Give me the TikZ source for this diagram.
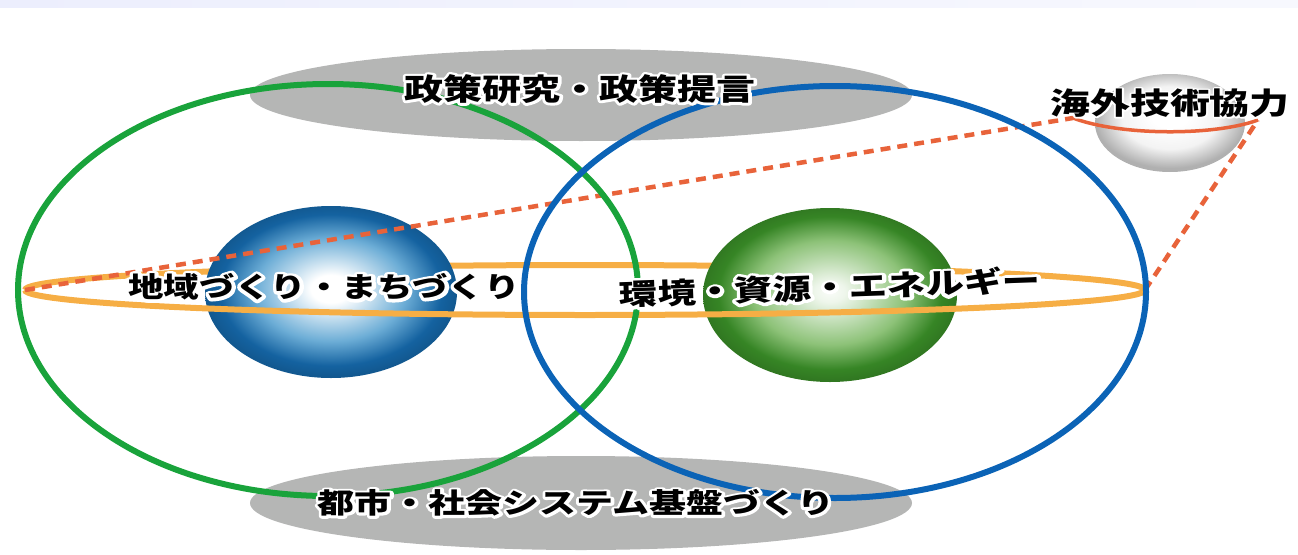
\documentclass[tikz,border=0pt]{standalone}
\usepackage{fontspec}
\newfontfamily\jp{Noto Sans CJK JP}
\newcommand\halotext[2]{\leavevmode\rlap{\special{pdf:literal direct 1 1 1 RG #1 w 1 j 1 J 2 Tr}#2\special{pdf:literal direct 0 Tr 0 G}}#2}
\definecolor{ringgreen}{HTML}{19A33B}
\definecolor{ringblue}{HTML}{0B63B6}
\definecolor{ringorange}{HTML}{F6AE45}
\definecolor{dashred}{HTML}{E8633A}
\definecolor{ovalgray}{HTML}{B5B6B5}
\definecolor{bandblue}{HTML}{ECEEFD}
\definecolor{sphblue}{HTML}{1462A0}
\definecolor{sphbluemid}{HTML}{6CADD6}
\definecolor{sphgreen}{HTML}{368525}
\definecolor{sphgreenmid}{HTML}{8DC278}
\definecolor{sphgray}{HTML}{B0B0B0}
\pgfdeclareradialshading{bluesph}{\pgfpoint{0bp}{1bp}}{color(0bp)=(white); color(4bp)=(white); color(15bp)=(sphbluemid); color(22bp)=(sphblue); color(25bp)=(sphblue!90!black); color(50bp)=(sphblue!90!black)}
\pgfdeclareradialshading{greensph}{\pgfpoint{0bp}{1bp}}{color(0bp)=(white!95!sphgreenmid); color(3bp)=(white!85!sphgreenmid); color(15bp)=(sphgreenmid); color(22bp)=(sphgreen); color(25bp)=(sphgreen!90!black); color(50bp)=(sphgreen!90!black)}
\pgfdeclareradialshading{graysph}{\pgfpoint{0bp}{4bp}}{color(0bp)=(white); color(6bp)=(white); color(16bp)=(white!85!sphgray); color(25bp)=(sphgray); color(50bp)=(sphgray)}
\begin{document}
\begin{tikzpicture}[x=1pt,y=-1pt,
  lbl/.style={inner sep=0pt, text=black},
  ringline/.style={ringorange, line width=6pt},
  dashline/.style={dashred, line width=4.5pt, dash pattern=on 10pt off 7pt},
  circline/.style={line width=6pt}]
\useasboundingbox (0,0) rectangle (1298,554);
\fill[left color=bandblue, right color=bandblue!40] (0,0) rectangle (1298,7);
% gray ovals
\fill[ovalgray] (581,95) ellipse [x radius=331, y radius=46];
\fill[ovalgray] (581,503) ellipse [x radius=331, y radius=47];
% coordinates
\coordinate (ringL) at (25,290);
\coordinate (ringR) at (1145,290);
\coordinate (smallL) at (1073,118);
\coordinate (smallR) at (1258,120);
% ring back half
\draw[ringline] (ringL) arc[start angle=180, end angle=360, x radius=560, y radius=25];
% spheres
\shade[shading=bluesph] (331,292) ellipse [x radius=126, y radius=86];
\shade[shading=greensph] (830,295) ellipse [x radius=127, y radius=87];
\shade[shading=graysph] (1170,123) ellipse [x radius=75, y radius=49];
% ring front half
\draw[ringline] (ringL) arc[start angle=180, end angle=0, x radius=560, y radius=25];
% dashed perspective lines
\draw[dashline] (ringL) -- (smallL);
\draw[dashline] (ringR) -- (smallR);
\draw[dashred, line width=3.5pt] (smallL) .. controls (1120,136) and (1215,136) .. (smallR);
% big circles
\draw[circline, ringgreen] (328,290) ellipse [x radius=310, y radius=206];
\draw[circline, ringblue] (835,292) ellipse [x radius=311, y radius=206];
% labels
\node[lbl] (policy) at (580,89) {\scalebox{1.3}[1]{\jp\bfseries\fontsize{30}{30}\selectfont\halotext{5}{政策研究・政策提言}}};
\node[lbl] (region) at (324,287) {\scalebox{1.27}[1]{\jp\bfseries\fontsize{28}{28}\selectfont\halotext{6}{地域づくり・まちづくり}}};
\node[lbl, rotate=2] (env) at (830,287) {\scalebox{1.32}[1]{\jp\bfseries\fontsize{29}{29}\selectfont\halotext{6}{環境・資源・エネルギー}}};
\node[lbl] (city) at (576,503) {\scalebox{1.32}[1]{\jp\bfseries\fontsize{28}{28}\selectfont\halotext{5}{都市・社会システム基盤づくり}}};
\node[lbl] (intl) at (1170,103) {\scalebox{1.33}[1]{\jp\bfseries\fontsize{30}{30}\selectfont\halotext{3}{海外技術協力}}};
\end{tikzpicture}
\end{document}
